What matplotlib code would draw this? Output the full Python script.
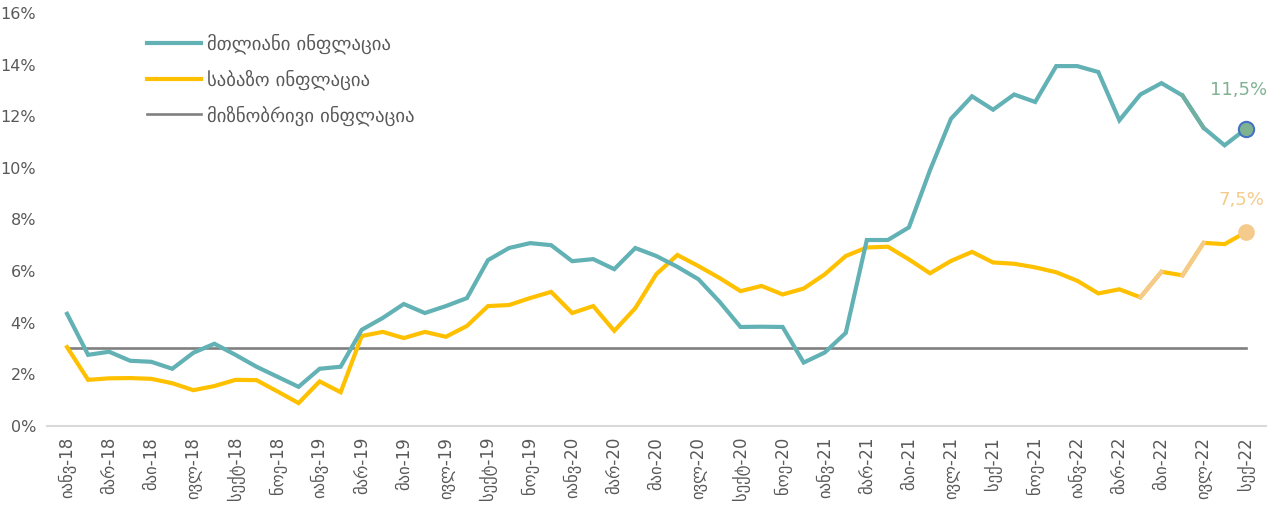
import matplotlib.pyplot as plt
import numpy as np

plt.rcParams['font.family'] = ['DejaVu Sans']

# monthly data, Jan-2018 .. Sep-2022
headline = [4.34, 2.75, 2.87, 2.52, 2.48, 2.21, 2.83, 3.18, 2.75, 2.29,
            1.90, 1.51, 2.21, 2.29, 3.72, 4.18, 4.72, 4.37, 4.64, 4.95,
            6.42, 6.89, 7.08, 7.00, 6.38, 6.46, 6.07, 6.89, 6.58, 6.16,
            5.68, 4.81, 3.83, 3.84, 3.83, 2.45, 2.84, 3.60, 7.20, 7.20,
            7.69, 9.90, 11.90, 12.77, 12.25, 12.84, 12.55, 13.94, 13.94, 13.71,
            11.84, 12.84, 13.28, 12.80, 11.55, 10.87, 11.50]
core = [3.05, 1.78, 1.84, 1.85, 1.82, 1.65, 1.38, 1.54, 1.78, 1.77,
        1.33, 0.88, 1.72, 1.30, 3.48, 3.64, 3.40, 3.64, 3.45, 3.87,
        4.64, 4.68, 4.95, 5.19, 4.37, 4.64, 3.68, 4.56, 5.88, 6.62,
        6.19, 5.73, 5.22, 5.42, 5.09, 5.32, 5.87, 6.58, 6.91, 6.94,
        6.45, 5.91, 6.39, 6.74, 6.33, 6.28, 6.14, 5.95, 5.62, 5.13,
        5.29, 4.98, 5.97, 5.83, 7.09, 7.04, 7.50]
target = 3.0

tick_labels = ['იანვ-18', 'მარ-18', 'მაი-18', 'ივლ-18', 'სექტ-18', 'ნოე-18',
               'იანვ-19', 'მარ-19', 'მაი-19', 'ივლ-19', 'სექტ-19', 'ნოე-19',
               'იანვ-20', 'მარ-20', 'მაი-20', 'ივლ-20', 'სექტ-20', 'ნოე-20',
               'იანვ-21', 'მარ-21', 'მაი-21', 'ივლ-21', 'სექ-21', 'ნოე-21',
               'იანვ-22', 'მარ-22', 'მაი-22', 'ივლ-22', 'სექ-22']

names = ['მთლიანი ინფლაცია', 'საბაზო ინფლაცია', 'მიზნობრივი ინფლაცია']

TEAL = '#62b1b5'
YEL = '#ffc000'
PALE = '#f4cb8c'
GREEN = '#7fb291'
GRAY = '#808080'

x = np.arange(len(headline))

fig = plt.figure(figsize=(12.72, 5.18), dpi=100)
ax = fig.add_axes([0.037, 0.178, 0.958, 0.797])

ax.plot(x, [target] * len(x), color=GRAY, lw=1.9, label=names[2], zorder=2)

# core: a couple of segments drawn pale
ax.plot(x, core, color=YEL, lw=3, label=names[1], zorder=3, solid_joinstyle='miter')
for i in (51, 53):
    ax.plot(x[i:i + 2], core[i:i + 2], color=PALE, lw=3, zorder=3.5)

ax.plot(x, headline, color=TEAL, lw=3, label=names[0], zorder=4, solid_joinstyle='miter')
ax.plot(x[53:55], headline[53:55], color='#70b0a2', lw=3, zorder=4.5)

# end markers + labels
ax.plot(x[-1], headline[-1], 'o', ms=11, mfc=GREEN, mec='#4472c4', mew=1.5, zorder=6)
ax.plot(x[-1], core[-1], 'o', ms=11, mfc=PALE, mec=PALE, zorder=6)
ax.annotate('11,5%', (x[-1], headline[-1]), xytext=(-5, 22), textcoords='offset points',
            ha='center', va='bottom', color=GREEN, fontsize=13)
ax.annotate('7,5%', (x[-1], core[-1]), xytext=(-3, 17), textcoords='offset points',
            ha='center', va='bottom', color=PALE, fontsize=13)

ax.set_xlim(-0.95, 56.95)
ax.set_ylim(0, 16)
ax.set_yticks(np.arange(0, 17, 2))
ax.set_yticklabels([f'{v}%' for v in range(0, 17, 2)])
ax.set_xticks(x[::2])
ax.set_xticklabels(tick_labels, rotation=90)
ax.tick_params(axis='both', length=0, colors='#595959')
ax.tick_params(axis='y', pad=8, labelsize=11.5)
ax.tick_params(axis='x', pad=8, labelsize=12)

for s in ['top', 'right', 'left']:
    ax.spines[s].set_visible(False)
ax.spines['bottom'].set_color('#d9d9d9')
ax.spines['bottom'].set_linewidth(1.5)

h, l = ax.get_legend_handles_labels()
order = [2, 1, 0]
leg = ax.legend([h[i] for i in order], [l[i] for i in order], loc='upper left',
                bbox_to_anchor=(0.068, 0.99), frameon=False, fontsize=13.5,
                handlelength=2.9, handletextpad=0.3, labelspacing=0.8)
for t in leg.get_texts():
    t.set_color('#595959')

fig.savefig('out.png', dpi=100)
